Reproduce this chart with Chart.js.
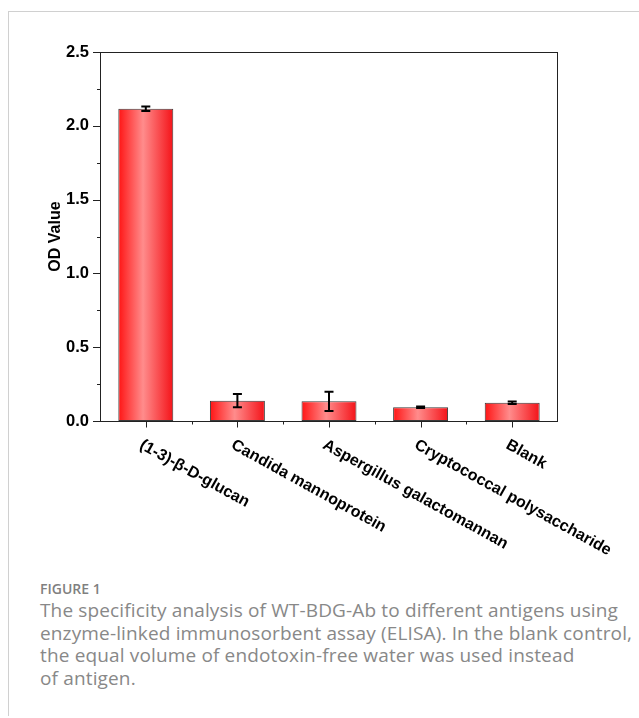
<!DOCTYPE html>
<html>
<head>
<meta charset="utf-8">
<script src="https://cdn.jsdelivr.net/npm/chart.js@4.4.0/dist/chart.umd.min.js"></script>
<style>
  html, body { margin: 0; padding: 0; background: #fff; }
  body { width: 639px; height: 718px; position: relative; overflow: hidden; }
  .rule-top { position: absolute; left: 8px; top: 11px; width: 631px; border-top: 1px solid #d0d0d0; }
  .rule-left { position: absolute; left: 8px; top: 11px; height: 705px; border-left: 1px solid #d0d0d0; }
  #wrap { position: absolute; left: 0; top: 0; width: 639px; height: 560px; }
  .fig-label { position: absolute; left: 40px; top: 580px; font-family: "Open Sans", sans-serif;
               font-size: 14px; line-height: 18px; color: #808080; font-weight: 600; }
  .fig-text { position: absolute; left: 40px; top: 599px; font-family: "Open Sans", sans-serif;
              font-size: 19px; line-height: 22.7px; color: #888; white-space: nowrap; letter-spacing: 0.15px; }
</style>
</head>
<body>
<div class="rule-top"></div>
<div class="rule-left"></div>
<div id="wrap"><canvas id="chart" width="639" height="560"></canvas></div>
<div class="fig-label">FIGURE 1</div>
<div class="fig-text">The specificity analysis of WT-BDG-Ab to different antigens using<br>enzyme-linked immunosorbent assay (ELISA). In the blank control,<br>the equal volume of endotoxin-free water was used instead<br>of antigen.</div>
<script>
// Antigens tested and the measured OD values (mean ± SD)
const antigens = ['(1-3)-β-D-glucan', 'Candida mannoprotein', 'Aspergillus galactomannan',
                  'Cryptococcal polysaccharide', 'Blank'];
const odMean = [2.115, 0.138, 0.133, 0.093, 0.124];
const odError = [0.015, 0.045, 0.065, 0.005, 0.008];
const yTicks = [0, 0.5, 1.0, 1.5, 2.0, 2.5];

const FONT = '"Liberation Sans", Arial, sans-serif';
const INK = '#222';
const BAR_PCT = 0.6;

function barGradient(ctx) {
  const chart = ctx.chart;
  const xs = chart.scales.x;
  if (!xs || !chart.chartArea) return '#ff4040';
  const c = xs.getPixelForValue(ctx.dataIndex);
  const w = (xs.width / antigens.length) * BAR_PCT;
  const g = chart.ctx.createLinearGradient(c - w / 2, 0, c + w / 2, 0);
  g.addColorStop(0, '#ff1414');
  g.addColorStop(0.45, '#ff8c8c');
  g.addColorStop(1, '#f41218');
  return g;
}

// Frame, tick marks, error bars and slanted category labels
const decorations = {
  id: 'decorations',
  afterDatasetsDraw(chart) {
    const { ctx, chartArea: a, scales: { x, y } } = chart;
    ctx.save();
    // error bars
    ctx.strokeStyle = '#000';
    ctx.lineWidth = 2;
    odMean.forEach((m, i) => {
      const cx = x.getPixelForValue(i);
      const top = y.getPixelForValue(m + odError[i]);
      const bot = y.getPixelForValue(m - odError[i]);
      ctx.beginPath();
      ctx.moveTo(cx, top); ctx.lineTo(cx, bot);
      ctx.moveTo(cx - 4.5, top); ctx.lineTo(cx + 4.5, top);
      ctx.moveTo(cx - 4.5, bot); ctx.lineTo(cx + 4.5, bot);
      ctx.stroke();
    });
    // plot frame
    ctx.strokeStyle = INK;
    ctx.lineWidth = 1;
    ctx.strokeRect(Math.round(a.left) + 0.5, Math.round(a.top) + 0.5,
                   Math.round(a.right - a.left) - 1, Math.round(a.bottom - a.top));
    // y ticks: major outward, minor halfway
    ctx.beginPath();
    for (let v = 0; v <= 2.5001; v += 0.25) {
      const py = Math.round(y.getPixelForValue(v)) + 0.5;
      const major = Math.abs(v * 2 - Math.round(v * 2)) < 1e-6;
      ctx.moveTo(a.left, py); ctx.lineTo(a.left - (major ? 7 : 3), py);
    }
    // x ticks: major at categories, minor between them
    const bottom = Math.round(a.bottom) + 0.5;
    for (let i = 0; i < antigens.length; i++) {
      const px = Math.round(x.getPixelForValue(i)) + 0.5;
      ctx.moveTo(px, bottom); ctx.lineTo(px, bottom + 6);
      if (i < antigens.length - 1) {
        const mx = Math.round(x.getPixelForValue(i + 0.5)) + 0.5;
        ctx.moveTo(mx, bottom); ctx.lineTo(mx, bottom + 3);
      }
    }
    ctx.stroke();
    // category labels, slanted down to the right
    ctx.fillStyle = '#000';
    ctx.font = 'bold 16px ' + FONT;
    ctx.textAlign = 'left';
    ctx.textBaseline = 'middle';
    const ang = 29 * Math.PI / 180;
    antigens.forEach((lab, i) => {
      const px = x.getPixelForValue(i);
      ctx.save();
      ctx.translate(px - 5, a.bottom + 23);
      ctx.rotate(ang);
      ctx.fillText(lab, 0, 0);
      ctx.restore();
    });
    ctx.restore();
  }
};

new Chart(document.getElementById('chart'), {
  type: 'bar',
  data: {
    labels: antigens,
    datasets: [{
      data: odMean,
      backgroundColor: barGradient,
      borderColor: '#3a3a3a',
      borderWidth: 1,
      borderSkipped: false,
      barPercentage: BAR_PCT,
      categoryPercentage: 1.0
    }]
  },
  options: {
    responsive: false,
    devicePixelRatio: 1,
    animation: false,
    layout: { padding: { left: 40, right: 81, top: 52, bottom: 0 } },
    plugins: { legend: { display: false }, tooltip: { enabled: false } },
    scales: {
      x: {
        type: 'category',
        ticks: { display: false },
        grid: { display: false },
        border: { display: false },
        afterFit(s) { s.height = 139; }
      },
      y: {
        min: 0, max: 2.5,
        afterBuildTicks(s) { s.ticks = yTicks.map(v => ({ value: v })); },
        ticks: {
          color: '#000',
          padding: 3,
          font: { family: FONT, size: 16.5, weight: 'bold' },
          callback: v => Number(v).toFixed(1)
        },
        grid: { display: false },
        border: { display: false },
        title: {
          display: true, text: 'OD Value', color: '#000',
          font: { family: FONT, size: 16, weight: 'bold' },
          padding: { top: 6, bottom: 0 }
        },
        afterFit(s) { s.width = 60; }
      }
    }
  },
  plugins: [decorations]
});
</script>
</body>
</html>
